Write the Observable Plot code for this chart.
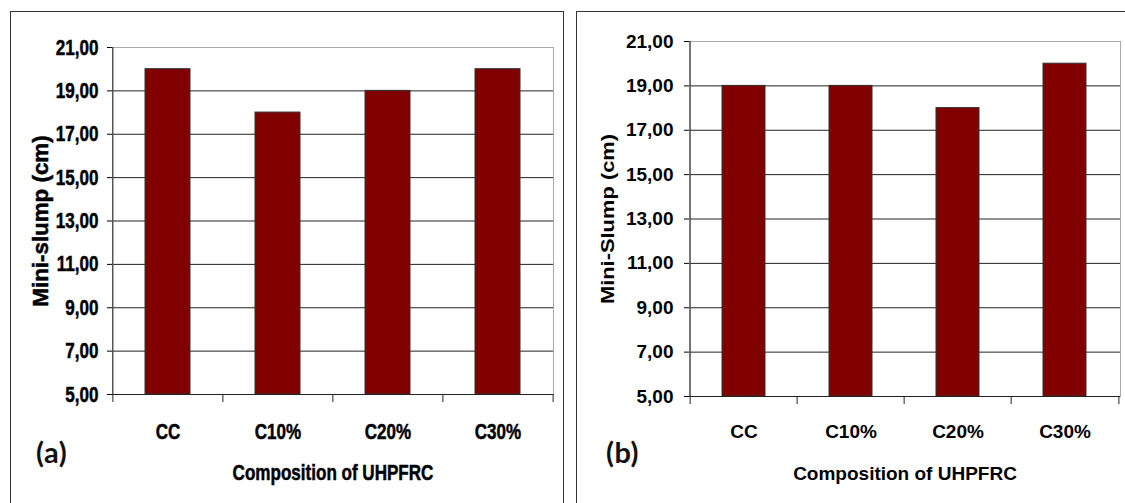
<!DOCTYPE html>
<html><head><meta charset="utf-8">
<script src="https://cdn.jsdelivr.net/npm/d3@7"></script>
<script src="https://cdn.jsdelivr.net/npm/@observablehq/plot@0.6"></script>
<style>
body{margin:0;background:#fff;}
#wrap{position:relative;width:1125px;height:503px;overflow:hidden;background:#fff;}
.pan{position:absolute;top:0;}
.box{position:absolute;border:1px solid #333;box-sizing:border-box;pointer-events:none;}
.tag{position:absolute;font-family:Lato,"Open Sans",sans-serif;font-weight:700;font-size:29px;line-height:28px;color:#111;letter-spacing:0.5px;}
</style></head>
<body><div id="wrap">
<div id="pa" class="pan" style="left:0"></div>
<div id="pb" class="pan" style="left:565px"></div>
<div class="box" style="left:10px;top:11px;width:554px;height:520px"></div>
<div class="box" style="left:576px;top:11px;width:600px;height:520px"></div>
<div class="tag" style="left:36px;top:438px">(a)</div>
<div class="tag" style="left:606px;top:438px">(b)</div>
</div>
<script>
const categories = ["CC", "C10%", "C20%", "C30%"];
const slumpA = [20, 18, 19, 20];
const slumpB = [19, 19, 18, 20];
const yTicks = [5, 7, 9, 11, 13, 15, 17, 19, 21];
const xTitle = "Composition of UHPFRC";
const yTitleA = "Mini-slump (cm)";
const yTitleB = "Mini-Slump (cm)";

function panel(o) {
  const data = categories.map((c, i) => ({cat: c, val: o.values[i]}));
  const W = o.width - o.ml - o.mr;
  const H = o.height - o.mt - o.mb;
  const half = W / categories.length / 2;
  const fmt = d => d.toFixed(2).replace(".", ",");
  return Plot.plot({
    width: o.width, height: o.height,
    marginLeft: o.ml, marginRight: o.mr, marginTop: o.mt, marginBottom: o.mb,
    style: {fontFamily: o.font, fontSize: o.fs + "px", fontWeight: "bold", color: "#000", background: "transparent", overflow: "visible"},
    x: {domain: categories, paddingInner: 0.595, paddingOuter: 0.2975},
    y: {domain: [5, 21]},
    marks: [
      Plot.gridY(yTicks.slice(1, -1), {stroke: "#222", strokeOpacity: 1}),
      Plot.frame({stroke: "#aaa"}),
      Plot.barY(data, {x: "cat", y1: 5, y2: "val", fill: "#800000", stroke: "#333", strokeWidth: 1}),
      Plot.ruleY([5], {stroke: "#222"}),
      Plot.ruleX([categories[0]], {dx: -half, stroke: "#222"}),
      Plot.ruleX(categories, {dx: -half, insetTop: H, insetBottom: -8, stroke: "#222"}),
      Plot.ruleX([categories[categories.length - 1]], {dx: half, insetTop: H, insetBottom: -8, stroke: "#222"}),
      Plot.axisY(yTicks, {tickSize: 5, tickPadding: o.ytp, tickFormat: fmt, label: null, fontSize: o.fs}),
      Plot.axisX({tickSize: 0, tickPadding: o.xtp, label: null, fontSize: o.fs}),
      Plot.text([o.yTitle], {frameAnchor: "left", textAnchor: "middle", lineAnchor: "middle", rotate: -90, dx: o.ytDx, fontSize: o.fs}),
      Plot.text([xTitle], {frameAnchor: "bottom", textAnchor: "middle", lineAnchor: "middle", dy: o.xtDy, fontSize: o.fs})
    ]
  });
}

// condense glyphs (stand-in for a narrow face), thicken strokes, add tracking to the y title
function condense(chart, squeeze, yTitle, tracking, weight) {
  d3.select(chart).selectAll("text").each(function() {
    const t = this.textContent;
    if (!t) return;
    const len = this.getComputedTextLength();
    let target = len * squeeze;
    if (t === yTitle) target += (t.length - 1) * tracking;
    if (Math.abs(target - len) > 0.3) {
      this.setAttribute("textLength", target.toFixed(1));
      this.setAttribute("lengthAdjust", "spacingAndGlyphs");
    }
    if (weight > 0) {
      this.style.stroke = "#000";
      this.style.strokeWidth = weight + "px";
      this.style.paintOrder = "stroke";
    }
  });
}

const chartA = panel({
  values: slumpA, width: 565, height: 503, ml: 112, mr: 12, mt: 47, mb: 109,
  font: '"Liberation Sans", Arial, sans-serif', fs: 22,
  ytp: 9, xtp: 29, ytDx: -72, xtDy: 78, yTitle: yTitleA
});
document.getElementById("pa").append(chartA);
condense(chartA, 0.775, yTitleA, 2.9, 0.5);

const chartB = panel({
  values: slumpB, width: 560, height: 503, ml: 124, mr: 5, mt: 41, mb: 107,
  font: '"Liberation Sans", Arial, sans-serif', fs: 19,
  ytp: 11, xtp: 28, ytDx: -82, xtDy: 77, yTitle: yTitleB
});
document.getElementById("pb").append(chartB);
condense(chartB, 1, yTitleB, 1.6, 0);
</script>
</body></html>
